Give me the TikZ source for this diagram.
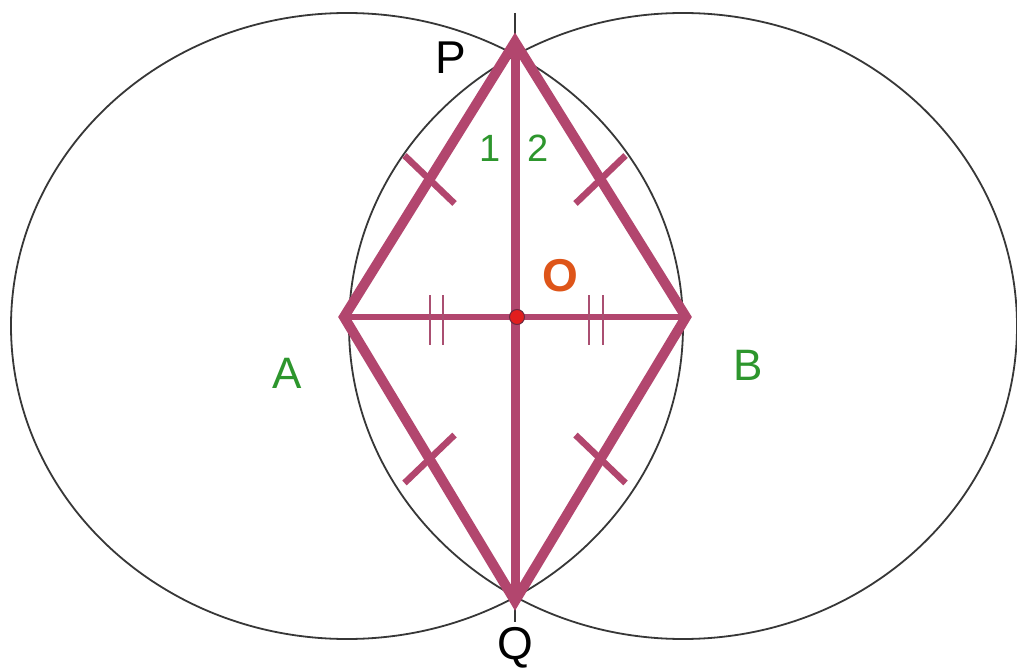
\documentclass[tikz,border=0pt]{standalone}
\usepackage{fontspec}
\setmainfont{Liberation Sans}
\usetikzlibrary{calc}
\definecolor{rhomb}{RGB}{178,70,110}
\definecolor{lblgreen}{RGB}{45,150,45}
\definecolor{lblorange}{RGB}{222,85,25}
\definecolor{dotred}{RGB}{225,30,30}
\definecolor{circgray}{RGB}{55,55,55}
\tikzset{
  circ/.style={draw=circgray, line width=1.8pt},
  side/.style={draw=rhomb, line width=10pt, line join=miter},
  diag/.style={draw=rhomb, line width=9pt},
  hdiag/.style={draw=rhomb, line width=6.5pt},
  tick1/.style={draw=rhomb, line width=6.5pt},
  tick2/.style={draw=rhomb!85!gray, line width=1.8pt},
  lbl/.style={inner sep=0pt, font=\fontsize{46}{46}\selectfont},
  glbl/.style={inner sep=0pt, text=lblgreen, font=\fontsize{44}{44}\selectfont},
  nlbl/.style={inner sep=0pt, text=lblgreen, font=\fontsize{38}{38}\selectfont},
}
\begin{document}
\begin{tikzpicture}[x=1pt, y=-1pt]
\useasboundingbox (0,0) rectangle (1017,671);
\fill[white] (0,0) rectangle (1017,671);
% circles
\coordinate (CL) at (347,326);
\coordinate (CR) at (683,326);
\draw[circ] (CL) ellipse [x radius=336pt, y radius=313pt];
\draw[circ] (CR) ellipse [x radius=334pt, y radius=313pt];
% points
\coordinate (P) at (515,42);
\coordinate (Q) at (515,601);
\coordinate (A) at (344,317);
\coordinate (B) at (686,317);
\coordinate (O) at (517,317);
\coordinate (Ptop) at (515,13);
\coordinate (Qbot) at (515,622);
% bisector line
\draw[circgray, line width=1.6pt] (Ptop) -- (Qbot);
% diagonals
\draw[hdiag] (A) -- (B);
\draw[diag] (P) -- (Q);
% rhombus
\draw[side] (P) -- (A) -- (Q) -- (B) -- cycle;
% single ticks at midpoints of sides
\draw[tick1] ($(A)!0.5!(P)+(-25,-24)$) -- ($(A)!0.5!(P)+(25,24)$);
\draw[tick1] ($(B)!0.5!(P)+(-25,24)$) -- ($(B)!0.5!(P)+(25,-24)$);
\draw[tick1] ($(A)!0.5!(Q)+(-25,24)$) -- ($(A)!0.5!(Q)+(25,-24)$);
\draw[tick1] ($(B)!0.5!(Q)+(-25,-24)$) -- ($(B)!0.5!(Q)+(25,24)$);
% double ticks on AO and OB
\draw[tick2] (430,295) -- (430,345);
\draw[tick2] (443,295) -- (443,345);
\draw[tick2] (589,295) -- (589,345);
\draw[tick2] (603,295) -- (603,345);
% centre dot
\fill[dotred, draw=rhomb!60!black, line width=1pt] (O) circle (7.5pt);
% labels
\node[lbl] (lP) at (451,58) {P};
\node[lbl] (lQ) at (515,648) {Q};
\node[glbl] (lA) at (287,373) {A};
\node[glbl] (lB) at (748,365) {B};
\node[nlbl] (l1) at (490,148) {1};
\node[nlbl] (l2) at (538,148) {2};
\node[inner sep=0pt, text=lblorange, font=\fontsize{46}{46}\bfseries\selectfont] (lO) at (560,276) {O};
\end{tikzpicture}
\end{document}
